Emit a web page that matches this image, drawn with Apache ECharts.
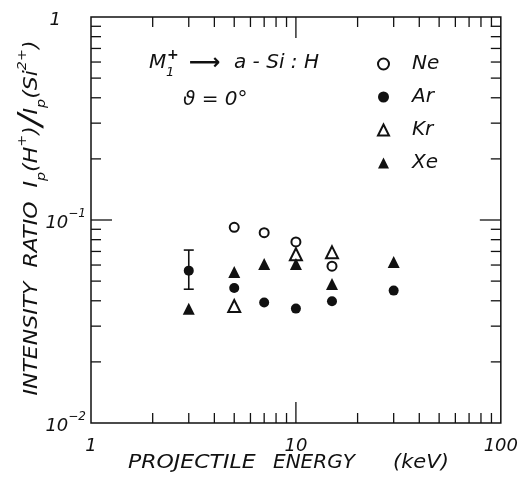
<!DOCTYPE html>
<html>
<head>
<meta charset="utf-8">
<script src="https://cdn.jsdelivr.net/npm/echarts@6/dist/echarts.min.js"></script>
<style>
  html, body { margin: 0; padding: 0; background: #fff; }
  #chart { width: 521px; height: 485px; }
</style>
</head>
<body>
<div id="chart"></div>
<script>
// projectile energy (keV) and intensity ratio per projectile
const neEnergy = [5, 7, 10, 15];
const neRatio = [0.092, 0.0866, 0.078, 0.0592];
const arEnergy = [3, 5, 7, 10, 15, 30];
const arRatio = [0.0563, 0.0462, 0.0392, 0.0366, 0.0398, 0.0449];
const krEnergy = [5, 10, 15];
const krRatio = [0.0377, 0.0678, 0.0693];
const xeEnergy = [3, 5, 7, 10, 15, 30];
const xeRatio = [0.0365, 0.0555, 0.0607, 0.0607, 0.0484, 0.0621];
// error bar on the 3 keV Ar point: [energy, low, high]
const errorBar = [3, 0.0456, 0.0711];

// axis ranges and ticks
const xRange = [1, 100];
const yRange = [0.01, 1];
const xMajorTicks = [10];
const xMinorTicks = [2, 3, 4, 5, 6, 7, 8, 9, 20, 30, 40, 50, 60, 70, 80, 90];
const yMajorTicks = [0.1];
const yMinorTicks = [0.02, 0.03, 0.04, 0.05, 0.06, 0.07, 0.08, 0.09, 0.2, 0.3, 0.4, 0.5, 0.6, 0.7, 0.8, 0.9];

const ink = '#111';
const font = 'DejaVu Sans';

var chartDom = document.getElementById('chart');
var myChart = echarts.init(chartDom);

const pairs = (xs, ys) => xs.map((x, i) => [x, ys[i]]);

// inside ticks on all four sides of the frame
function tickSeries(vals, axis, len) {
  return {
    type: 'custom',
    silent: true,
    clip: false,
    z: 5,
    data: vals.map(v => axis === 'x' ? [v, yRange[0]] : [xRange[0], v]),
    renderItem: (params, api) => {
      const st = { stroke: ink, lineWidth: 1.3 };
      if (axis === 'x') {
        const v = api.value(0);
        const b = api.coord([v, yRange[0]]);
        const t = api.coord([v, yRange[1]]);
        return { type: 'group', children: [
          { type: 'line', shape: { x1: b[0], y1: b[1], x2: b[0], y2: b[1] - len }, style: st },
          { type: 'line', shape: { x1: t[0], y1: t[1], x2: t[0], y2: t[1] + len }, style: st }
        ] };
      }
      const v = api.value(1);
      const l = api.coord([xRange[0], v]);
      const r = api.coord([xRange[1], v]);
      return { type: 'group', children: [
        { type: 'line', shape: { x1: l[0], y1: l[1], x2: l[0] + len, y2: l[1] }, style: st },
        { type: 'line', shape: { x1: r[0], y1: r[1], x2: r[0] - len, y2: r[1] }, style: st }
      ] };
    }
  };
}

const scatter = (name, data, symbol, size) => ({
  name: name,
  type: 'scatter',
  data: data,
  symbol: symbol,
  symbolSize: size,
  z: 10,
  itemStyle: { color: ink, borderColor: ink, opacity: 1, borderWidth: symbol.indexOf('empty') === 0 ? 1.7 : 0 }
});

const labelRich = {
  base: { fontFamily: font, fontStyle: 'italic', fontSize: 18, color: ink, lineHeight: 24, verticalAlign: 'bottom' },
  one: { fontFamily: font, fontStyle: 'italic', fontSize: 18, color: ink, lineHeight: 24, verticalAlign: 'bottom', padding: [0, 25, 0, 0] },
  sup: { fontFamily: font, fontStyle: 'italic', fontSize: 12, color: ink, lineHeight: 24, verticalAlign: 'top' }
};

const txt = (s, x, y, size, extra) => Object.assign({
  type: 'text', x: x, y: y,
  style: { text: s, font: 'italic ' + size + 'px "DejaVu Sans"', fill: ink, align: 'left', verticalAlign: 'middle' }
}, extra || {});

var option = {
  animation: false,
  backgroundColor: '#fff',
  grid: { left: 91, right: 17, top: 17, bottom: 62, show: true, borderColor: ink, borderWidth: 1.5 },
  xAxis: {
    type: 'log', logBase: 10, min: xRange[0], max: xRange[1],
    axisLine: { show: false }, axisTick: { show: false }, splitLine: { show: false },
    axisLabel: { margin: 14, fontFamily: font, fontStyle: 'italic', fontSize: 18, color: ink }
  },
  yAxis: {
    type: 'log', logBase: 10, min: yRange[0], max: yRange[1],
    axisLine: { show: false }, axisTick: { show: false }, splitLine: { show: false },
    axisLabel: {
      margin: 5,
      formatter: v => {
        if (v >= 0.99) return '{one|1}';
        const e = Math.round(Math.log10(v));
        return '{base|10}{sup|\u2212' + Math.abs(e) + '}';
      },
      rich: labelRich
    }
  },
  legend: {
    data: ['Ne', 'Ar', 'Kr', 'Xe'],
    orient: 'vertical',
    left: 377, top: 54,
    itemWidth: 11, itemHeight: 11, itemGap: 13,
    padding: 0,
    textStyle: { fontFamily: font, fontStyle: 'italic', fontSize: 20, color: ink, padding: [0, 0, 0, 18] }
  },
  graphic: [
    txt('M', 149, 63, 20),
    txt('1', 166, 73, 13),
    { type: 'text', x: 167, y: 55, style: { text: '+', font: 'bold 14px "DejaVu Sans"', fill: ink, align: 'left', verticalAlign: 'middle' } },
    { type: 'text', x: 189, y: 63, style: { text: '\u27F6', font: 'bold 22px "DejaVu Sans"', fill: ink, align: 'left', verticalAlign: 'middle' } },
    txt('a - Si : H', 234, 63, 20),
    txt('\u03D1 = 0\u00B0', 183, 100, 20),
    txt('PROJECTILE', 128, 463, 20, { scaleX: 1.1 }),
    txt('ENERGY', 273, 463, 20, { scaleX: 1.0 }),
    txt('(keV)', 393, 463, 20, { scaleX: 1.05 }),
    {
      type: 'text', x: 32, y: 218, rotation: Math.PI / 2, scaleX: 1.1,
      style: {
        text: '{b|INTENSITY  RATIO  I}{s|p}{b|(H}{u|+}{b|)}{sl|/}{b|I}{s|p}{b|(Si}{u|2+}{b|)}',
        align: 'center', verticalAlign: 'middle',
        rich: {
          b: { font: 'italic 20px "DejaVu Sans"', fill: ink, lineHeight: 32, verticalAlign: 'middle' },
          s: { font: 'italic 13px "DejaVu Sans"', fill: ink, lineHeight: 32, verticalAlign: 'bottom' },
          u: { font: 'italic 13px "DejaVu Sans"', fill: ink, lineHeight: 32, verticalAlign: 'top' },
          sl: { font: 'italic 32px "DejaVu Sans"', fill: ink, lineHeight: 32, verticalAlign: 'middle' }
        }
      }
    }
  ],
  series: [
    scatter('Ne', pairs(neEnergy, neRatio), 'emptyCircle', 9),
    scatter('Ar', pairs(arEnergy, arRatio), 'circle', 10),
    scatter('Kr', pairs(krEnergy, krRatio), 'emptyTriangle', 12),
    scatter('Xe', pairs(xeEnergy, xeRatio), 'triangle', 12),
    {
      type: 'custom',
      silent: true,
      z: 8,
      data: [errorBar],
      encode: { x: 0, y: [1, 2] },
      renderItem: (params, api) => {
        const lo = api.coord([api.value(0), api.value(1)]);
        const hi = api.coord([api.value(0), api.value(2)]);
        const st = { stroke: ink, lineWidth: 1.6 };
        return { type: 'group', children: [
          { type: 'line', shape: { x1: lo[0], y1: lo[1], x2: hi[0], y2: hi[1] }, style: st },
          { type: 'line', shape: { x1: lo[0] - 5, y1: lo[1], x2: lo[0] + 5, y2: lo[1] }, style: st },
          { type: 'line', shape: { x1: hi[0] - 5, y1: hi[1], x2: hi[0] + 5, y2: hi[1] }, style: st }
        ] };
      }
    },
    tickSeries(xMajorTicks, 'x', 21),
    tickSeries(xMinorTicks, 'x', 10),
    tickSeries(yMajorTicks, 'y', 21),
    tickSeries(yMinorTicks, 'y', 10)
  ]
};

option && myChart.setOption(option);
</script>
</body>
</html>
